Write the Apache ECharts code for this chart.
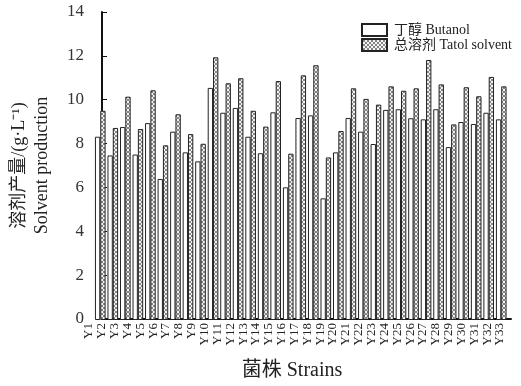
<!DOCTYPE html>
<html><head><meta charset="utf-8">
<script src="https://cdn.jsdelivr.net/npm/echarts@6/dist/echarts.min.js"></script>
<style>html,body{margin:0;padding:0;background:#fff}#c{width:521px;height:386px}</style>
</head><body><div id="c"></div>
<script>
const categories = ['Y1','Y2','Y3','Y4','Y5','Y6','Y7','Y8','Y9','Y10','Y11','Y12','Y13','Y14','Y15','Y16','Y17','Y18','Y19','Y20','Y21','Y22','Y23','Y24','Y25','Y26','Y27','Y28','Y29','Y30','Y31','Y32','Y33'];
const butanol = [8.33,7.48,8.77,7.52,8.95,6.41,8.56,7.62,7.21,10.55,9.42,9.64,8.33,7.58,9.44,6.03,9.18,9.30,5.53,7.62,9.18,8.56,8.00,9.55,9.58,9.17,9.12,9.58,7.86,9.00,8.91,9.42,9.12];
const total = [9.51,8.73,10.15,8.68,10.44,7.94,9.35,8.45,8.01,11.94,10.76,10.99,9.51,8.79,10.86,7.56,11.12,11.58,7.39,8.59,10.53,10.05,9.79,10.62,10.42,10.53,11.82,10.71,8.89,10.58,10.17,11.05,10.62];
const yTicks = {min: 0, max: 14, interval: 2};
const seriesNames = ['丁醇 Butanol','总溶剂 Tatol solvent'];

function makePattern(){
  const c = document.createElement('canvas');
  c.width = 4; c.height = 4;
  const g = c.getContext('2d');
  g.fillStyle = '#f4f4f4'; g.fillRect(0,0,4,4);
  g.strokeStyle = '#6a6a6a'; g.lineWidth = 0.8;
  g.beginPath(); g.moveTo(0,0); g.lineTo(4,4); g.moveTo(4,0); g.lineTo(0,4); g.stroke();
  return c;
}
const pat = {image: makePattern(), repeat: 'repeat'};
const serif = '"Liberation Serif","Noto Sans CJK SC",serif';
const ink = '#222';

const chart = echarts.init(document.getElementById('c'));
chart.setOption({
  animation: false,
  textStyle: {fontFamily: serif, color: ink},
  grid: [
    {left: 94, right: 13.5, top: 12, bottom: 66},
    {left: 88, right: 10, top: 12, bottom: 66},
    {left: 89, right: 21, top: 12, bottom: 66}
  ],
  legend: {
    orient: 'vertical', left: 356, top: 18, itemGap: 1, itemWidth: 25, itemHeight: 12,
    icon: 'rect',
    textStyle: {fontFamily: serif, fontSize: 14, color: ink, lineHeight: 14, padding: [0,0,0,2]},
    data: seriesNames
  },
  xAxis: [
    {type: 'category', gridIndex: 0, data: categories,
     axisLine: {show: false}, axisTick: {show: false}, axisLabel: {show: false}},
    {type: 'category', gridIndex: 1, data: categories,
     axisLine: {lineStyle: {color: '#111', width: 2}},
     axisTick: {show: false}, axisLabel: {show: false},
     name: '菌株 Strains', nameLocation: 'middle', nameGap: 42,
     nameTextStyle: {fontSize: 20, color: ink, fontFamily: serif, padding: [0, 29, 0, 0]}},
    {type: 'category', gridIndex: 2, data: categories, boundaryGap: false,
     axisLine: {show: false}, axisTick: {show: false},
     axisLabel: {rotate: 90, fontSize: 13, margin: 3, color: ink, fontFamily: serif, interval: 0}}
  ],
  yAxis: [
    {type: 'value', gridIndex: 0, ...yTicks, show: false},
    {type: 'value', gridIndex: 1, ...yTicks,
     axisLine: {show: true, lineStyle: {color: '#111', width: 2}},
     axisTick: {show: true, inside: true, length: 5, lineStyle: {color: '#111'}},
     splitLine: {show: false},
     axisLabel: {fontSize: 17, color: '#333', margin: 18, fontFamily: serif},
     name: '溶剂产量/(g·L⁻¹)\nSolvent production', nameLocation: 'middle', nameGap: 48,
     nameTextStyle: {fontSize: 18, color: ink, fontFamily: serif, lineHeight: 23}},
    {type: 'value', gridIndex: 2, ...yTicks, show: false}
  ],
  series: [
    {name: seriesNames[0], type: 'bar', xAxisIndex: 0, yAxisIndex: 0, data: butanol,
     barGap: '0%', barCategoryGap: '15%',
     itemStyle: {color: '#fff', borderColor: ink, borderWidth: 1}},
    {name: seriesNames[1], type: 'bar', xAxisIndex: 0, yAxisIndex: 0, data: total,
     itemStyle: {color: pat, borderColor: ink, borderWidth: 1}}
  ]
});
</script></body></html>
